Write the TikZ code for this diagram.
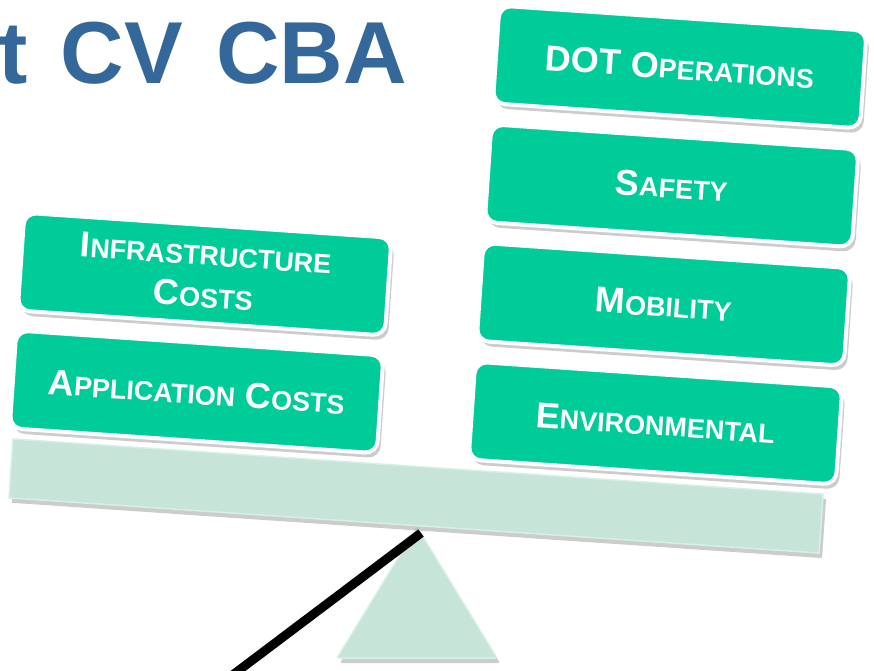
\documentclass[tikz,border=0pt]{standalone}
\usepackage{fontspec}
\setmainfont{Liberation Sans}
\usepackage{xcolor}
\usepackage{tikz}
\usetikzlibrary{shapes,shadows}
\definecolor{boxgreen}{RGB}{0,204,153}
\definecolor{plankgreen}{RGB}{198,228,216}
\definecolor{plankedge}{RGB}{214,240,228}
\definecolor{titleblue}{RGB}{52,104,154}
\newcommand{\bigsz}{\fontsize{36}{42}\selectfont}
\newcommand{\smallsz}{\fontsize{27}{42}\selectfont}
\newcommand{\capword}[2]{{\bigsz #1}{\smallsz #2}}
\tikzstyle{block} = [rectangle, draw=white, line width=4pt, fill=boxgreen,
    text=white, font=\bigsz\bfseries, align=center, rounded corners=12pt,
    minimum width=368pt, minimum height=98pt,
    drop shadow={shadow xshift=3pt, shadow yshift=-5pt, opacity=0.4}]
\tikzstyle{plank} = [rectangle, draw=plankedge, line width=1.5pt, fill=plankgreen,
    inner sep=0pt, minimum width=812pt, minimum height=59pt,
    drop shadow={shadow xshift=3pt, shadow yshift=-5pt, opacity=0.4}]
\tikzstyle{fulcrum} = [draw=plankedge, line width=1.5pt, fill=plankgreen, rounded corners=2pt,
    drop shadow={shadow xshift=3pt, shadow yshift=-5pt, opacity=0.4}]
\tikzstyle{lever} = [draw, line width=9pt, black]

\begin{document}
\begin{tikzpicture}[x=1pt, y=-1pt, node distance=119pt]
    \useasboundingbox (0,0) rectangle (874,670);
    \clip (0,0) rectangle (874,670);

    % Title
    \node [anchor=base east, inner sep=0pt, text=titleblue,
        font=\fontsize{88}{90}\selectfont\bfseries] (title) at (407,83)
        {t\hspace{33pt}CV\hspace{33pt}CBA};

    % Fulcrum and lever
    \coordinate (lever_end) at (226,680);
    \coordinate (lever_top) at (421,533);
    \path [fulcrum] (417,527) -- (497,658) -- (337,658) -- cycle;
    \path [lever] (lever_end) -- (lever_top);

    % Tilted plank with blocks
    \begin{scope}[shift={(416,496)}, rotate=-3.9, transform shape]
        \node [plank] (plank) at (0,0) {};

        \node [block] (app) at (-226,-89) {\capword{A}{PPLICATION} \capword{C}{OSTS}};
        \node [block, above of=app, node distance=118pt] (infra) {\capword{I}{NFRASTRUCTURE}\\\capword{C}{OSTS}};

        \node [block] (env) at (234,-89) {\capword{E}{NVIRONMENTAL}};
        \node [block, above of=env] (mob) {\capword{M}{OBILITY}};
        \node [block, above of=mob] (safety) {\capword{S}{AFETY}};
        \node [block, above of=safety] (dot) {DOT \capword{O}{PERATIONS}};
    \end{scope}

\end{tikzpicture}
\end{document}
